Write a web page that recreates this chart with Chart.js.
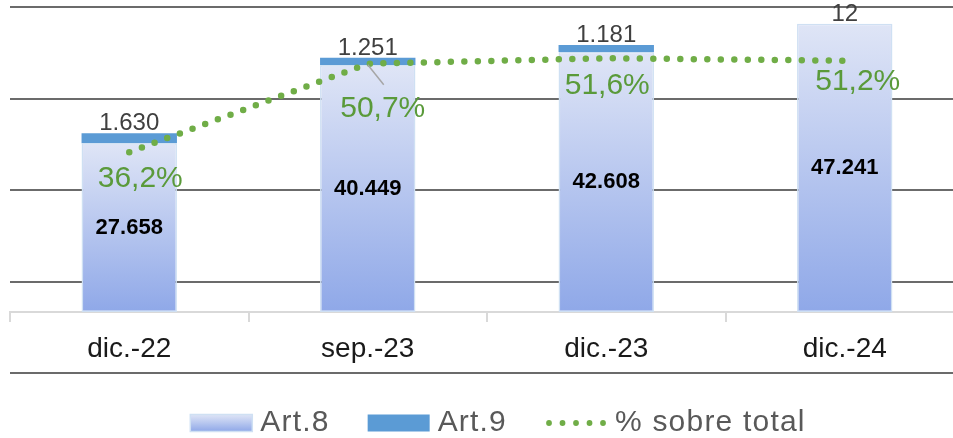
<!DOCTYPE html>
<html lang="es">
<head>
<meta charset="utf-8">
<title>Art.8 / Art.9</title>
<script src="https://cdn.jsdelivr.net/npm/chart.js@4.4.1/dist/chart.umd.min.js"></script>
<style>
    html, body { margin: 0; padding: 0; background: #fff; overflow: hidden; }
    #wrap { position: absolute; left: 0; top: 0; width: 980px; height: 438px; }
</style>
</head>
<body>
<div id="wrap"><canvas id="chart"></canvas></div>
<script>
// ---- data ----
const categories = ["dic.-22", "sep.-23", "dic.-23", "dic.-24"];
const art8Values = [27658, 40449, 42608, 47241];
const art9Values = [1630, 1251, 1181, 12];
const pctValues = [36.2, 50.7, 51.6, 51.2];

// axis ranges (left: counts, right: percent)
const countMin = -10000;
const countMax = 50000;
const countStep = 15000;
const pctMin = 0;
const pctMax = 60;

const FONT = "'Liberation Sans', Arial, sans-serif";
const ART8_TOP = "#dfe5f6";
const ART8_BOTTOM = "#8fa8e8";
const ART9_COLOR = "#5b9bd5";
const LINE_COLOR = "#70ad47";
const PCT_TEXT = "#5a9a3a";

// where each % label sits relative to its point (dx, dy)
const pctLabelOffsets = [[11, 27], [15, 45], [1, 27], [13, 21]];

Chart.defaults.font.family = FONT;

const dots = (n) => n.toString().replace(/\B(?=(\d{3})+(?!\d))/g, ".");
const pct = (v) => v.toFixed(1).replace(".", ",") + "%";

function art8Fill(context){
    const chart = context.chart;
    const y = chart.scales.y;
    if (!y || !chart.chartArea || context.dataIndex === undefined) return "#b8c7ef";
    const top = y.getPixelForValue(art8Values[context.dataIndex]);
    const bottom = y.getPixelForValue(0);
    const g = chart.ctx.createLinearGradient(0, top, 0, bottom);
    g.addColorStop(0, ART8_TOP);
    g.addColorStop(1, ART8_BOTTOM);
    return g;
}

/* value labels on bars and points */
const valueLabels = {
    id: "valueLabels",
    afterDatasetsDraw(chart){
        const ctx = chart.ctx;
        ctx.save();

        // Art.8 – bold black, centred inside the segment
        ctx.font = `bold 22px ${FONT}`;
        ctx.fillStyle = "#000";
        ctx.textAlign = "center";
        ctx.textBaseline = "middle";
        chart.getDatasetMeta(0).data.forEach((bar, i) => {
            ctx.fillText(dots(art8Values[i]), bar.x, (bar.y + bar.base) / 2);
        });

        // Art.9 – grey, sitting on top of the stack
        ctx.font = `24px ${FONT}`;
        ctx.fillStyle = "#404040";
        ctx.textBaseline = "alphabetic";
        chart.getDatasetMeta(1).data.forEach((bar, i) => {
            ctx.fillText(dots(art9Values[i]), bar.x, bar.y - 3);
        });

        // % labels – green, pushed below the line
        ctx.font = `30px ${FONT}`;
        ctx.textBaseline = "middle";
        chart.getDatasetMeta(2).data.forEach((pt, i) => {
            const [dx, dy] = pctLabelOffsets[i];
            if (dy > 35) {
                // leader line for the label that got moved further away
                ctx.strokeStyle = "#a6a6a6";
                ctx.lineWidth = 1.5;
                ctx.beginPath();
                ctx.moveTo(pt.x, pt.y + 1);
                ctx.lineTo(pt.x + 16, pt.y + 21);
                ctx.stroke();
            }
            ctx.fillStyle = PCT_TEXT;
            ctx.fillText(pct(pctValues[i]), pt.x + dx, pt.y + dy);
        });
        ctx.restore();
    },
};

/* bottom legend, drawn by hand so the line entry shows as dots */
const bottomLegend = {
    id: "bottomLegend",
    afterDraw(chart){
        const ctx = chart.ctx;
        const boxW = 62, boxH = 17, gapBox = 8, gapItem = 38;
        const cy = 423;
        const items = [
            { label: "Art.8", kind: "gradient" },
            { label: "Art.9", kind: "solid" },
            { label: "% sobre total", kind: "dots" },
        ];
        ctx.save();
        ctx.font = `30px ${FONT}`;
        ctx.letterSpacing = "1.2px";
        const widths = items.map((it) => boxW + gapBox + ctx.measureText(it.label).width);
        const total = widths.reduce((a, b) => a + b, 0) + gapItem * (items.length - 1);
        let x = chart.width / 2 + 8 - total / 2;

        items.forEach((it, i) => {
            const top = cy - boxH / 2;
            if (it.kind === "gradient") {
                const g = ctx.createLinearGradient(0, top, 0, top + boxH);
                g.addColorStop(0, ART8_TOP);
                g.addColorStop(1, ART8_BOTTOM);
                ctx.fillStyle = g;
                ctx.fillRect(x, top, boxW, boxH);
                ctx.strokeStyle = "#cfe0f3";
                ctx.lineWidth = 1.5;
                ctx.strokeRect(x, top, boxW, boxH);
            } else if (it.kind === "solid") {
                ctx.fillStyle = ART9_COLOR;
                ctx.fillRect(x, top, boxW, boxH);
            } else {
                ctx.fillStyle = LINE_COLOR;
                for (let k = 0; k < 5; k++) {
                    ctx.beginPath();
                    ctx.arc(x + 4 + k * 13.5, cy, 2.9, 0, Math.PI * 2);
                    ctx.fill();
                }
            }
            ctx.fillStyle = "#595959";
            ctx.textAlign = "left";
            ctx.textBaseline = "middle";
            ctx.fillText(it.label, x + boxW + gapBox, cy);
            x += widths[i] + gapItem;
        });
        ctx.restore();
    },
};

new Chart(document.getElementById("chart"), {
    data: {
        labels: categories,
        datasets: [
            {
                type: "bar",
                label: "Art.8",
                data: art8Values,
                backgroundColor: art8Fill,
                borderColor: "#cfe0f3",
                borderWidth: 1.5,
                borderSkipped: false,
                order: 2,
            },
            {
                type: "bar",
                label: "Art.9",
                data: art9Values,
                backgroundColor: ART9_COLOR,
                borderWidth: 0,
                order: 2,
            },
            {
                type: "line",
                label: "% sobre total",
                data: pctValues,
                yAxisID: "y2",
                borderColor: LINE_COLOR,
                borderWidth: 6.5,
                borderDash: [0, 13.5],
                borderCapStyle: "round",
                pointRadius: 0,
                fill: false,
                tension: 0,
                order: 1,
            },
        ],
    },
    options: {
        responsive: true,
        maintainAspectRatio: false,
        animation: false,
        datasets: { bar: { categoryPercentage: 1, barPercentage: 0.4 } },
        layout: { padding: { left: 10, right: 16, top: 7, bottom: 65 } },
        scales: {
            x: {
                stacked: true,
                position: { y: 0 },
                offset: true,
                grid: { offset: true, drawOnChartArea: false, tickLength: 9, color: "#d9d9d9", lineWidth: 2 },
                border: { color: "#d9d9d9", width: 2 },
                ticks: { color: "#1a1a1a", font: { size: 28 }, padding: 11 },
            },
            y: {
                stacked: true,
                min: countMin,
                max: countMax,
                ticks: { display: false, stepSize: countStep },
                grid: { color: "#6b6b6b", lineWidth: 2, drawTicks: false },
                border: { display: false },
            },
            y2: {
                display: false,
                position: "right",
                min: pctMin,
                max: pctMax,
            },
        },
        plugins: {
            legend: { display: false },
            tooltip: { enabled: false },
        },
    },
    plugins: [valueLabels, bottomLegend],
});
</script>
</body>
</html>
